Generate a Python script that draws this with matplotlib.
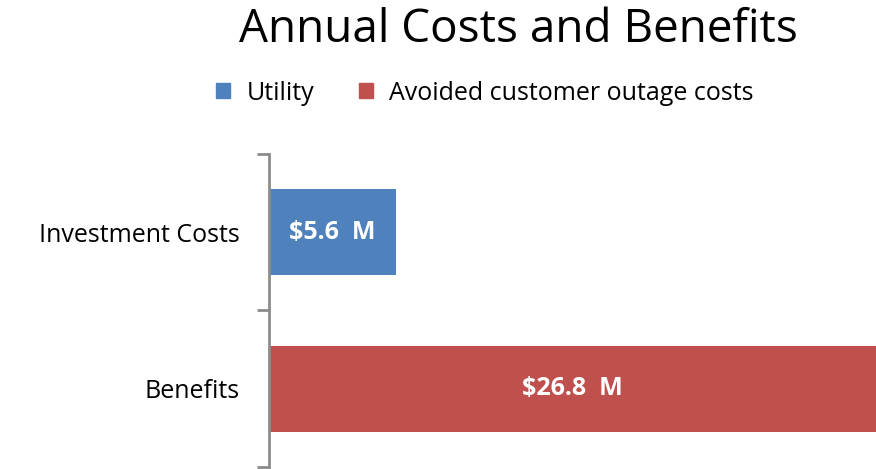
import matplotlib
matplotlib.use("Agg")
import matplotlib.pyplot as plt
from matplotlib.patches import Patch

categories = ["Investment Costs", "Benefits"]
series_names = ["Utility", "Avoided customer outage costs"]
utility = [5.6, 0.0]
avoided = [0.0, 26.8]
labels = ["$5.6  M", "$26.8  M"]
colors = ["#4F81BD", "#C0504D"]

plt.rcParams['font.family'] = ['Open Sans', 'DejaVu Sans']

fig = plt.figure(figsize=(8.76, 4.69), dpi=100)
W, H = 876, 469
ax = fig.add_axes([269 / W, (H - 467) / H, (876 - 269) / W, (467 - 154) / H])

y = [0, 1]
b1 = ax.barh(y, utility, height=0.55, color=colors[0], label=series_names[0])
b2 = ax.barh(y, avoided, left=utility, height=0.55, color=colors[1], label=series_names[1])

for i in range(len(categories)):
    total = utility[i] + avoided[i]
    ax.text(total / 2, y[i], labels[i], ha="center", va="center", color="white",
            fontsize=18, fontweight="bold")

ax.set_xlim(0, 26.8)
ax.set_ylim(1.5, -0.5)
ax.set_yticks(y)
ax.set_yticklabels(categories, fontsize=18)
ax.set_yticks([-0.5, 0.5, 1.5], minor=True)
ax.tick_params(axis="y", which="major", length=0, pad=21)
ax.tick_params(axis="y", which="minor", length=9, width=2, color="#8C8C8C")
ax.set_xticks([])
for s in ["top", "right", "bottom"]:
    ax.spines[s].set_visible(False)
ax.spines["left"].set_color("#8C8C8C")
ax.spines["left"].set_linewidth(2)

fig.text(518 / W, 1 - 30 / H, "Annual Costs and Benefits", ha="center", va="center",
         fontsize=33)

handles = [Patch(color=colors[0]), Patch(color=colors[1])]
fig.legend(handles, series_names, loc="center", bbox_to_anchor=(485 / W, 1 - 93 / H),
           ncol=2, frameon=False, fontsize=18, handlelength=0.55, handleheight=0.55,
           handletextpad=0.65, columnspacing=1.8)

fig.savefig("out.png", dpi=100)
